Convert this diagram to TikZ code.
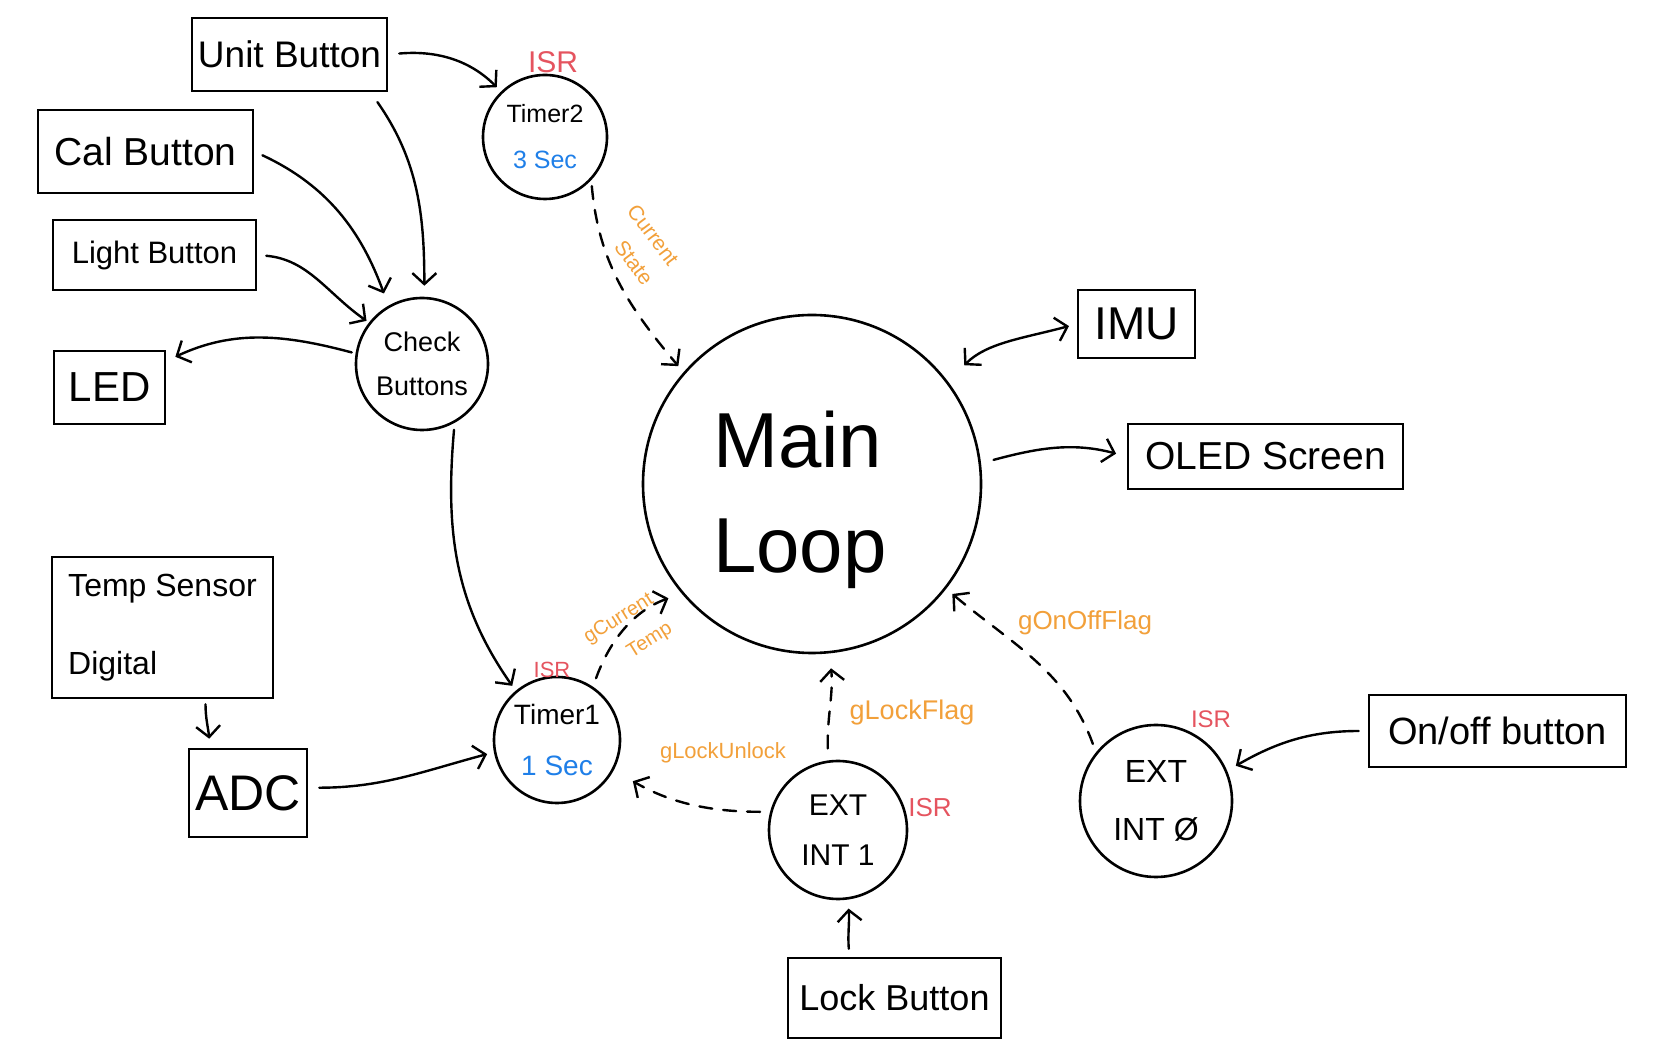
\documentclass[tikz,border=0pt]{standalone}
\usepackage{fontspec}
\setmainfont{Liberation Sans}
\usetikzlibrary{arrows.meta,calc,shapes.geometric}
\definecolor{sorange}{HTML}{F2A03A}
\definecolor{sred}{HTML}{E5545F}
\definecolor{sblue}{HTML}{1F7FE8}
\newcommand{\fsz}[2]{\fontsize{#1}{#2}\selectfont}
\begin{document}
\begin{tikzpicture}[x=1pt,y=1pt,
  box/.style={draw, line width=2.6pt, inner sep=0pt},
  circ/.style={draw, circle, line width=2.6pt, inner sep=0pt, align=center},
  arr/.style={line width=2.4pt, line cap=round, -{Straight Barb[length=11pt,width=24pt]}},
  darr/.style={arr, dash pattern=on 13pt off 11pt},
  olab/.style={text=sorange, inner sep=0pt, align=center},
  isr/.style={text=sred, inner sep=0pt}]
\fill[white] (0,0) rectangle (1668,1050);
\useasboundingbox (0,0) rectangle (1668,1050);

% boxes
\node[box, minimum width=195pt, minimum height=73pt, font=\fsz{37}{44}] (unit) at (289.5,995.5) {Unit Button};
\node[box, minimum width=215pt, minimum height=83pt, font=\fsz{39}{46}] (cal) at (145.5,898.5) {Cal Button};
\node[box, minimum width=203pt, minimum height=70pt, font=\fsz{31}{38}] (light) at (154.5,795) {Light Button};
\node[box, minimum width=111pt, minimum height=73pt, font=\fsz{42}{48}] (led) at (109.5,662.5) {LED};
\node[box, minimum width=221pt, minimum height=141pt, align=left, font=\fsz{32}{78}] (temp) at (162.5,422.5) {Temp Sensor\\Digital};
\node[box, minimum width=118pt, minimum height=88pt, font=\fsz{50}{56}] (adc) at (248,257) {ADC};
\node[box, minimum width=117pt, minimum height=68pt, font=\fsz{46}{52}] (imu) at (1136.5,726) {IMU};
\node[box, minimum width=275pt, minimum height=65pt, font=\fsz{39}{46}] (oled) at (1265.5,593.5) {OLED Screen};
\node[box, minimum width=257pt, minimum height=72pt, font=\fsz{38}{44}] (onoff) at (1497.5,319) {On/off button};
\node[box, minimum width=213pt, minimum height=80pt, font=\fsz{36}{42}] (lock) at (894.5,52) {Lock Button};

% circles
\node[circ, minimum size=124pt, font=\fsz{25}{46}] (timer2) at (545,913) {Timer2\\\textcolor{sblue}{3 Sec}};
\node[circ, minimum size=132pt, font=\fsz{27}{44}] (check) at (422,686) {Check\\Buttons};
\node[circ, minimum size=338pt] (main) at (812,566) {};
\node[inner sep=0pt, align=left, font=\fsz{78}{105}] (maintext) at (800,550) {Main\\Loop};
\node[circ, minimum size=126pt, font=\fsz{28}{51}] (timer1) at (557,310) {Timer1\\\textcolor{sblue}{1 Sec}};
\node[circ, minimum size=138pt, font=\fsz{30}{50}] (ext1) at (838,220) {EXT\\INT 1};
\node[circ, minimum size=152pt, font=\fsz{32}{58}] (ext0) at (1156,249) {EXT\\INT Ø};

% ISR labels
\node[isr, font=\fsz{30}{34}] (isr2) at (553,988) {ISR};
\node[isr, font=\fsz{22}{26}] (isr1) at (552,380) {ISR};
\node[isr, font=\fsz{26}{30}] (isre1) at (930,242) {ISR};
\node[isr, font=\fsz{24}{28}] (isre0) at (1211,331) {ISR};

% orange labels
\node[olab, rotate=-53, font=\fsz{21}{24}] (lcur) at (653,815) {Current};
\node[olab, rotate=-53, font=\fsz{21}{24}] (lsta) at (634,787) {State};
\node[olab, rotate=32, font=\fsz{20}{24}] (lgcur) at (619,431) {gCurrent};
\node[olab, rotate=32, font=\fsz{20}{24}] (ltemp) at (650,409) {Temp};
\node[olab, font=\fsz{22}{26}] (llu) at (723,297) {gLockUnlock};
\node[olab, font=\fsz{27}{30}] (llf) at (912,337) {gLockFlag};
\node[olab, font=\fsz{26}{30}] (lof) at (1085,427) {gOnOffFlag};

% solid connectors
\draw[arr, shorten <=11pt, shorten >=6pt] (unit.east) to[out=5,in=135] (timer2.134);
\draw[arr, shorten <=12pt, shorten >=11pt] (unit.-25) to[out=-55,in=90] (check.88);
\draw[arr, shorten <=9pt, shorten >=13pt] (cal.east) to[out=-25,in=110] (check.120);
\draw[arr, shorten <=9pt, shorten >=3pt] (light.east) to[out=-5,in=145] (check.142);
\draw[arr, shorten <=4pt, shorten >=10pt] (check.171) to[out=165,in=25] (led.25);
\draw[arr, shorten <=7pt, shorten >=6pt] (check.-61) to[out=-95,in=125] (timer1.130);
\draw[arr, shorten <=5pt, shorten >=9pt] ([xshift=43pt]temp.south) to[out=-90,in=95] ([xshift=-38pt]adc.north);
\draw[arr, shorten <=11pt, shorten >=7pt] (adc.5) to[out=0,in=195] (timer1.191);
\draw[arr, shorten <=9pt, shorten >=10pt] (onoff.west) to[out=180,in=30] (ext0.23);
\draw[arr, shorten <=8pt, shorten >=9pt] ([xshift=-45pt]lock.north) to[out=95,in=-85] (ext1.-82);
\draw[arr, {Straight Barb[length=11pt,width=24pt]}-{Straight Barb[length=11pt,width=24pt]}, shorten <=23pt, shorten >=8pt] (main.37) to[out=45,in=195] (imu.west);
\draw[arr, shorten <=13pt, shorten >=11pt] (main.7) to[out=15,in=165] (oled.west);

% dashed connectors
\draw[darr, shorten <=6pt, shorten >=8pt] (timer2.-43) to[out=-85,in=130] (main.139);
\draw[darr, shorten <=9pt, shorten >=14pt] (timer1.56) to[out=70,in=200] (main.220);
\draw[darr, shorten <=10pt, shorten >=22pt] (ext1.165) to[out=180,in=-30] (timer1.-28);
\draw[darr, shorten <=12pt, shorten >=15pt] (ext1.98) to[out=92,in=-85] (main.-84);
\draw[darr, shorten <=9pt, shorten >=8pt] (ext0.141) to[out=110,in=-40] (main.-38);
\end{tikzpicture}
\end{document}
